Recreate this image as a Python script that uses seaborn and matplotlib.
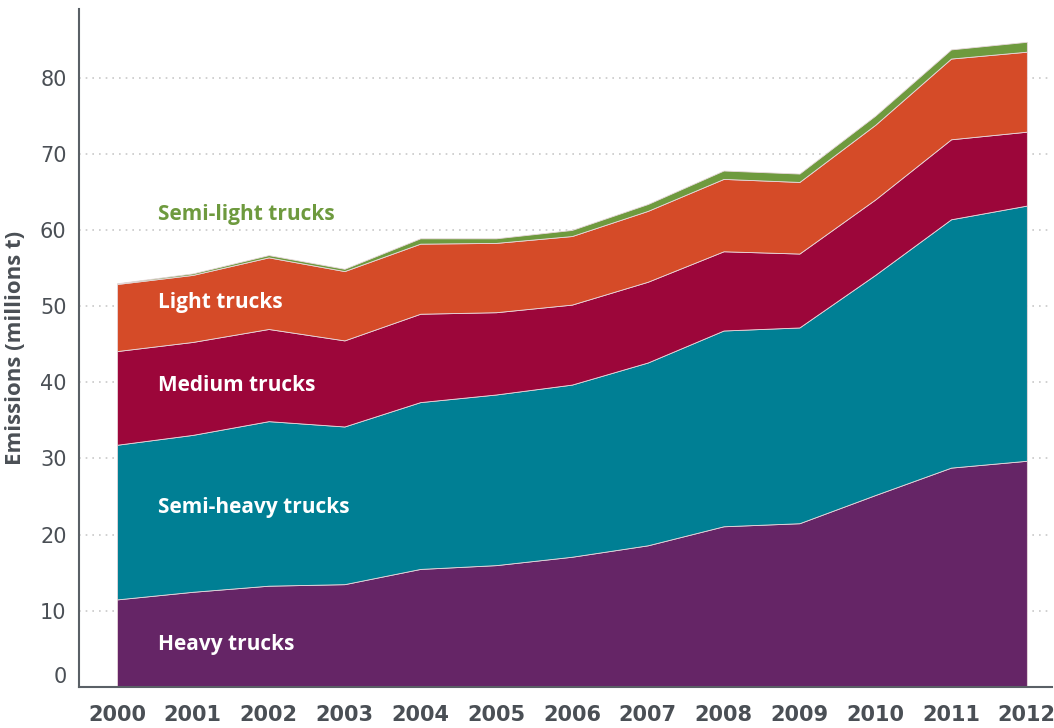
import numpy as np
import pandas as pd
import matplotlib
matplotlib.use("Agg")
import matplotlib.pyplot as plt
import seaborn as sns

# Truck CO2 emissions by segment (millions t)
years = [2000, 2001, 2002, 2003, 2004, 2005, 2006, 2007, 2008, 2009, 2010, 2011, 2012]
heavy = [11.5, 12.5, 13.3, 13.5, 15.5, 16.0, 17.1, 18.6, 21.1, 21.5, 25.2, 28.8, 29.7]
semi_heavy = [20.3, 20.6, 21.6, 20.7, 21.9, 22.4, 22.6, 24.0, 25.7, 25.7, 28.9, 32.6, 33.5]
medium = [12.3, 12.2, 12.1, 11.3, 11.6, 10.8, 10.5, 10.6, 10.4, 9.7, 9.9, 10.5, 9.7]
light = [8.8, 8.8, 9.4, 9.1, 9.2, 9.1, 9.0, 9.3, 9.5, 9.4, 9.8, 10.6, 10.5]
semi_light = [0.1, 0.2, 0.3, 0.3, 0.7, 0.6, 0.8, 0.9, 1.1, 1.1, 1.2, 1.2, 1.3]

segments = ["Heavy trucks", "Semi-heavy trucks", "Medium trucks", "Light trucks", "Semi-light trucks"]
colors = ["#652566", "#007f94", "#9c063a", "#d54b28", "#6e9a3e"]
label_y = [5.6, 23.6, 39.6, 50.5, 62.0]
label_colors = ["white", "white", "white", "white", "#6e9a3e"]

df = pd.DataFrame({"year": years, "Heavy trucks": heavy, "Semi-heavy trucks": semi_heavy,
                   "Medium trucks": medium, "Light trucks": light,
                   "Semi-light trucks": semi_light})

sns.set_theme(style="white")
plt.rcParams["font.family"] = ["Open Sans", "DejaVu Sans"]

fig = plt.figure(figsize=(10.54, 7.28), dpi=100)
ax = fig.add_axes([0.075, 0.0563, 0.923, 0.9313])

# dotted grid behind the areas
for v in range(10, 90, 10):
    ax.axhline(v, color="#c8c8c8", lw=1.2, ls=(0, (1, 3)), zorder=0)

ax.stackplot(df["year"], [df[s] for s in segments], colors=colors,
             edgecolor="#e8d8dc", linewidth=0.6, zorder=2)

for name, y, c in zip(segments, label_y, label_colors):
    ax.text(2000.54, y, name, color=c, fontsize=15, fontweight="bold",
            va="center", ha="left", zorder=3)

ax.set_xlim(1999.5, 2012.33)
ax.set_ylim(0, 89)
ax.set_xticks(years)
ax.set_xticklabels([str(y) for y in years])
ax.set_yticks(range(0, 90, 10))
ax.tick_params(axis="both", length=0, colors="#4a4f55")
ax.tick_params(axis="x", pad=13, labelsize=15)
ax.tick_params(axis="y", pad=9, labelsize=15)
for lab in ax.get_xticklabels():
    lab.set_family("DejaVu Sans")
    lab.set_fontweight("bold")
for lab in ax.get_yticklabels():
    lab.set_family("DejaVu Sans")
ylabs = ax.get_yticklabels()
ylabs[0].set_va("bottom")

ax.set_ylabel("Emissions (millions t)", fontsize=16, color="#4a4f55",
              fontweight="bold", labelpad=10)
ax.set_xlabel("")

sns.despine(ax=ax)
for side in ["left", "bottom"]:
    ax.spines[side].set_color("#5a6066")
    ax.spines[side].set_linewidth(1.5)

fig.savefig("out.png", dpi=100)
